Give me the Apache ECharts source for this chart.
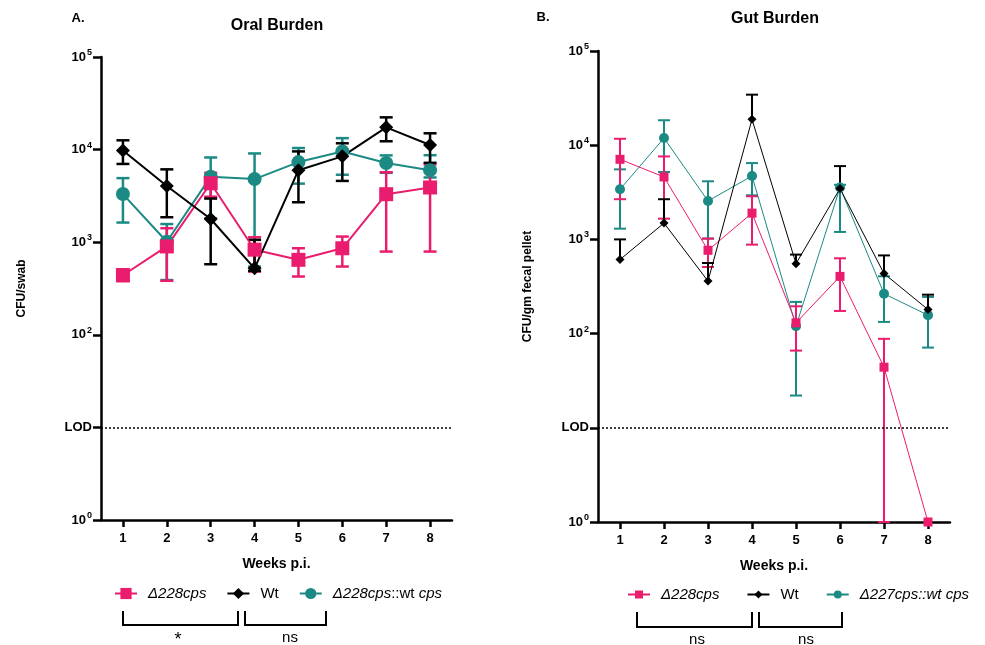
<!DOCTYPE html>
<html><head><meta charset="utf-8">
<script src="https://cdn.jsdelivr.net/npm/echarts@6/dist/echarts.min.js"></script>
<style>html,body{margin:0;padding:0;background:#fff}#c{width:985px;height:645px}</style>
</head><body><div id="c"></div>
<script>
// ---- data ----
const weeks = ['1','2','3','4','5','6','7','8'];
// Oral burden (CFU/swab)
const oralDel   = [440, 900, 4330, 830, 645, 860, 3300, 3900];
const oralDelLo = [380, 383, 3100, 482, 426, 546, 792, 792];
const oralDelHi = [510, 1415, 5620, 1130, 861, 1150, 5690, 6900];
const oralWt    = [9800, 4050, 1780, 522, 5990, 8450, 17400, 11200];
const oralWtLo  = [7000, 1860, 578, 490, 2700, 4590, 12300, 7200];
const oralWtHi  = [12600, 6120, 2960, 1060, 9560, 11700, 22300, 15000];
const oralComp   = [3310, 1010, 5100, 4800, 7330, 9560, 7160, 6000];
const oralCompLo = [1630, 390, 1810, 545, 4290, 5350, 5620, 5000];
const oralCompHi = [4920, 1570, 8220, 9090, 10400, 13300, 8660, 8700];
// Gut burden (CFU/gm fecal pellet)
const gutDel   = [7080, 4600, 766, 1900, 130, 405, 44, 1];
const gutDelLo = [2670, 1660, 509, 880, 66, 174, 1, 1];
const gutDelHi = [11700, 7600, 1020, 2870, 195, 630, 88, 1];
const gutWt    = [611, 1490, 361, 18800, 553, 3470, 434, 180];
const gutWtLo  = [611, 1490, 361, 18800, 553, 3470, 434, 180];
const gutWtHi  = [1000, 2670, 562, 34400, 690, 6000, 676, 259];
const gutComp   = [3400, 11900, 2560, 4710, 120, 3550, 265, 157];
const gutCompLo = [1300, 5200, 1020, 2940, 22, 1200, 133, 71];
const gutCompHi = [5540, 18400, 4140, 6460, 217, 3800, 406, 245];
const LOD = 10;
const legendText = {
  aDel: '{i|Δ228cps}', aWt: 'Wt', aComp: '{i|Δ228cps}::wt {i|cps}',
  bDel: '{i|Δ228cps}', bWt: 'Wt', bComp: '{i|Δ227cps::wt cps}'
};

// ---- styling ----
const FONT = '"Liberation Sans", Arial, sans-serif';
const PINK = '#ea1c6e', TEAL = '#1b8a84', BLACK = '#000000';

function errData(mid, lo, hi) { return mid.map((m, i) => [i, lo[i], hi[i], m]); }

function errSeries(name, gi, data, color, width, capW) {
  return {
    type: 'custom', name, xAxisIndex: gi, yAxisIndex: gi, data, silent: true, z: 2,
    encode: { x: 0, y: [1, 2] },
    renderItem(params, api) {
      const x = api.value(0), lo = api.value(1), hi = api.value(2), m = api.value(3);
      const pLo = api.coord([x, lo]), pHi = api.coord([x, hi]), pM = api.coord([x, m]);
      const st = { stroke: color, lineWidth: width };
      const ch = [];
      if (hi > m) {
        ch.push({ type: 'line', shape: { x1: pM[0], y1: pM[1], x2: pHi[0], y2: pHi[1] }, style: st });
        ch.push({ type: 'line', shape: { x1: pHi[0] - capW / 2, y1: pHi[1], x2: pHi[0] + capW / 2, y2: pHi[1] }, style: st });
      }
      if (lo < m) {
        ch.push({ type: 'line', shape: { x1: pM[0], y1: pM[1], x2: pLo[0], y2: pLo[1] }, style: st });
        ch.push({ type: 'line', shape: { x1: pLo[0] - capW / 2, y1: pLo[1], x2: pLo[0] + capW / 2, y2: pLo[1] }, style: st });
      }
      return { type: 'group', children: ch };
    }
  };
}

function lineSeries(name, gi, data, color, symbol, size, width, withLOD) {
  const s = {
    type: 'line', name, xAxisIndex: gi, yAxisIndex: gi, data, symbol, symbolSize: size,
    itemStyle: { color }, lineStyle: { color, width }, z: 3
  };
  if (withLOD) {
    s.markLine = { silent: true, symbol: 'none', label: { show: false },
      lineStyle: { type: [2, 2], color: '#000', width: 1.5 }, data: [{ yAxis: LOD }] };
  }
  return s;
}

function yAxis(gi, name, gap) {
  return {
    type: 'log', logBase: 10, min: 1, max: 100000, gridIndex: gi,
    name, nameLocation: 'middle', nameGap: gap, nameRotate: 90,
    nameTextStyle: { fontFamily: FONT, fontWeight: 'bold', fontSize: 12, color: '#000' },
    axisLine: { show: true, lineStyle: { color: '#000', width: 2.5 } },
    axisTick: { show: true, length: 8, lineStyle: { color: '#000', width: 2.5 } },
    splitLine: { show: false }, minorTick: { show: false },
    axisLabel: {
      margin: 9, color: '#000',
      formatter: v => Math.abs(v - LOD) < 1e-6 ? '{b|LOD}' : '{b|10}{s|' + Math.round(Math.log10(v)) + '}',
      rich: {
        b: { fontFamily: FONT, fontWeight: 'bold', fontSize: 13, color: '#000' },
        s: { fontFamily: FONT, fontWeight: 'bold', fontSize: 9, color: '#000', padding: [0, 0, 9, 1] }
      }
    }
  };
}

function xAxis(gi) {
  return {
    type: 'category', data: weeks, gridIndex: gi, boundaryGap: true,
    name: 'Weeks p.i.', nameLocation: 'middle', nameGap: 37,
    nameTextStyle: { fontFamily: FONT, fontWeight: 'bold', fontSize: 14, color: '#000' },
    axisLine: { show: true, onZero: false, lineStyle: { color: '#000', width: 2.5 } },
    axisTick: { show: true, alignWithLabel: true, length: 7, lineStyle: { color: '#000', width: 2.5 } },
    axisLabel: { margin: 12, fontFamily: FONT, fontWeight: 'bold', fontSize: 13, color: '#000' },
    splitLine: { show: false }
  };
}

function legend(names, left, top, size, gap) {
  return {
    data: names, left, top, orient: 'horizontal', itemWidth: 22, itemHeight: size, itemGap: gap,
    selectedMode: false,
    formatter: n => legendText[n],
    textStyle: { fontFamily: FONT, fontSize: 15, color: '#000', padding: [0, 0, 0, 6],
      rich: { i: { fontFamily: FONT, fontSize: 15, fontStyle: 'italic', color: '#000' } } }
  };
}

function bracket(x1, x2, y1, y2) {
  return { type: 'polyline', silent: true,
    shape: { points: [[x1, y1], [x1, y2], [x2, y2], [x2, y1]] },
    style: { stroke: '#000', lineWidth: 2, fill: null } };
}
function txt(x, y, t, size, bold) {
  return { type: 'text', x, y, silent: true,
    style: { text: t, fill: '#000', font: (bold ? 'bold ' : '') + size + 'px ' + FONT, textAlign: 'center', textVerticalAlign: 'middle' } };
}

const option = {
  animation: false,
  backgroundColor: '#fff',
  grid: [
    { left: 101, top: 57, width: 351, height: 463 },
    { left: 598, top: 51, width: 352, height: 471 }
  ],
  xAxis: [xAxis(0), xAxis(1)],
  yAxis: [yAxis(0, 'CFU/swab', 73), yAxis(1, 'CFU/gm fecal pellet', 64)],
  legend: [legend(['aDel', 'aWt', 'aComp'], 109, 581, 14, 20), legend(['bDel', 'bWt', 'bComp'], 622, 582, 10, 27)],
  series: [
    errSeries('eAComp', 0, errData(oralComp, oralCompLo, oralCompHi), TEAL, 2.5, 13),
    errSeries('eADel', 0, errData(oralDel, oralDelLo, oralDelHi), PINK, 2.5, 13),
    errSeries('eAWt', 0, errData(oralWt, oralWtLo, oralWtHi), BLACK, 2.5, 13),
    lineSeries('aComp', 0, oralComp, TEAL, 'circle', 14, 2, true),
    lineSeries('aDel', 0, oralDel, PINK, 'rect', 14, 2, false),
    lineSeries('aWt', 0, oralWt, BLACK, 'diamond', 14, 2, false),
    errSeries('eBComp', 1, errData(gutComp, gutCompLo, gutCompHi), TEAL, 2, 12),
    errSeries('eBDel', 1, errData(gutDel, gutDelLo, gutDelHi), PINK, 2, 12),
    errSeries('eBWt', 1, errData(gutWt, gutWtLo, gutWtHi), BLACK, 2, 12),
    lineSeries('bComp', 1, gutComp, TEAL, 'circle', 10, 1, true),
    lineSeries('bDel', 1, gutDel, PINK, 'rect', 9, 1, false),
    lineSeries('bWt', 1, gutWt, BLACK, 'diamond', 9, 1, false)
  ],
  graphic: [
    txt(78, 18, 'A.', 13, true),
    txt(277, 26, 'Oral Burden', 16, true),
    txt(543, 17, 'B.', 13, true),
    txt(775, 19, 'Gut Burden', 16, true),
    bracket(123, 238, 611, 625),
    bracket(245, 326, 611, 625),
    txt(178, 640, '*', 18, false),
    txt(290, 638, 'ns', 15, false),
    bracket(637, 752, 612, 627),
    bracket(759, 842, 612, 627),
    txt(697, 640, 'ns', 15, false),
    txt(806, 640, 'ns', 15, false)
  ]
};
const chart = echarts.init(document.getElementById('c'));
chart.setOption(option);
</script>
</body></html>
